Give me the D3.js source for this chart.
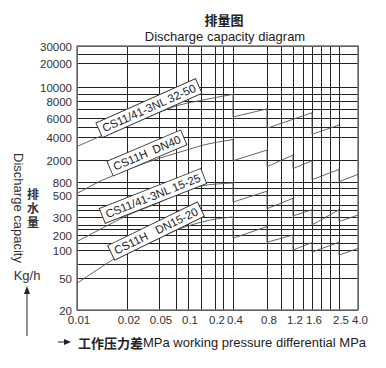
<!DOCTYPE html>
<html><head><meta charset="utf-8">
<script src="https://cdn.jsdelivr.net/npm/d3@7"></script>
<style>body{margin:0;background:#fff}</style>
</head><body>
<svg id="c" width="386" height="368"></svg>
<script>
// ---------- data ----------
const xTickValues = [0.01, 0.02, 0.05, 0.1, 0.2, 0.4, 0.8, 1.2, 1.6, 2.5, 4.0];
const xTickLabels = ["0.01", "0.02", "0.05", "0.1", "0.2", "0.4", "0.8", "1.2", "1.6", "2.5", "4.0"];
const xGridValues = [0.01, 0.02, 0.05, 0.075, 0.1, 0.14, 0.2, 0.27, 0.4, 0.8, 1.0, 1.2, 1.4, 1.6, 1.85, 2.15, 2.5, 4.0];
const yTickValues = [20, 50, 100, 200, 300, 500, 800, 2000, 4000, 6000, 8000, 10000, 20000, 30000];
const yTickLabels = ["20", "50", "100", "200", "300", "500", "800", "2000", "4000", "6000", "8000", "10000", "20000", "30000"];
const yGridValues = [20, 50, 70, 100, 140, 200, 230, 250, 300, 350, 400, 500, 650, 800, 2000, 4000, 5000, 6000, 7000, 8000, 9000, 10000, 20000, 25000, 30000];

const seriesNames = ["CS11/41-3NL 32-50", "CS11H  DN40", "CS11/41-3NL 15-25", "CS11H   DN15-20"];
// smooth part: [pressure MPa, capacity kg/h]
const curve1 = [[0.01, 3000], [0.015, 4300], [0.02, 5200], [0.05, 6600], [0.083, 7500], [0.136, 8050], [0.4, 8900]];
const curve2 = [[0.01, 530], [0.0143, 870], [0.02, 1320], [0.05, 2100], [0.097, 2700], [0.136, 3050], [0.4, 3700]];
const curve3 = [[0.01, 148], [0.0147, 240], [0.02, 310], [0.05, 420], [0.1, 620], [0.136, 690], [0.4, 770]];
const curve4 = [[0.01, 43], [0.0169, 81], [0.02, 97], [0.05, 182], [0.1, 245], [0.176, 280], [0.4, 300]];
// sawtooth part: [p0, c0, p1, c1]
const steps1 = [[0.4, 6100, 0.8, 7000], [0.8, 4820, 1.6, 6560], [1.6, 4240, 2.5, 5160]];
const steps2 = [[0.4, 1940, 0.8, 2700], [0.8, 1510, 1.2, 2325], [1.2, 1400, 1.6, 1940], [1.6, 880, 2.5, 1350], [2.5, 810, 4.0, 1100]];
const steps3 = [[0.4, 424, 0.8, 574], [0.8, 363, 1.2, 463], [1.2, 308, 1.6, 355], [1.6, 251, 2.5, 355], [2.5, 271, 4.0, 314]];
const steps4 = [[0.4, 172, 0.8, 242], [0.8, 143, 1.2, 200], [1.2, 100, 1.6, 141], [1.6, 95, 2.5, 143], [2.5, 88, 4.0, 108]];
// label anchor (pressure, capacity)
const labelAnchors = [[0.0375, 7100], [0.0354, 2470], [0.0421, 489], [0.0459, 219]];

// ---------- layout ----------
const svg = d3.select("#c");
const L = 77, R = 358, T = 46, B = 310;
const latin = "'Liberation Sans', Arial, sans-serif";
const cjk = "'Noto Sans CJK SC', sans-serif";

const x = d3.scaleLog().domain(xTickValues)
  .range([77, 127, 159, 188, 215, 233, 267, 293, 312, 339, 358]);
const y = d3.scaleLog().domain(yTickValues)
  .range([310, 278, 250, 235, 217, 195, 182, 160, 137, 118, 101, 87, 63, 46]);

const px = v => Math.round(x(v)) + 0.5;
const py = v => Math.round(y(v)) + 0.5;

// grid
const g = svg.append("g");
g.selectAll("line.v").data(xGridValues).join("line")
  .attr("x1", px).attr("x2", px).attr("y1", T).attr("y2", B)
  .attr("stroke", "#222").attr("stroke-width", 1);
g.selectAll("line.h").data(yGridValues).join("line")
  .attr("x1", L).attr("x2", R).attr("y1", py).attr("y2", py)
  .attr("stroke", "#222").attr("stroke-width", 1);
svg.append("rect").attr("x", L).attr("y", T).attr("width", R - L).attr("height", B - T)
  .attr("fill", "none").attr("stroke", "#777").attr("stroke-width", 1.5);

// series
const curves = [curve1, curve2, curve3, curve4];
const stepsAll = [steps1, steps2, steps3, steps4];
const smooth = d3.line().x(d => x(d[0])).y(d => y(d[1])).curve(d3.curveMonotoneX);
const straight = d3.line().x(d => x(d[0])).y(d => y(d[1]));
curves.forEach((c, i) => {
  svg.append("path").attr("d", smooth(c)).attr("fill", "none")
    .attr("stroke", "#555").attr("stroke-width", 0.9);
  const pts = [c[c.length - 1]];
  stepsAll[i].forEach(s => { pts.push([s[0], s[1]]); pts.push([s[2], s[3]]); });
  svg.append("path").attr("d", straight(pts)).attr("fill", "none")
    .attr("stroke", "#555").attr("stroke-width", 0.9);
});

// series labels
const angles = [-24, -23, -21.5, -26];
seriesNames.forEach((name, i) => {
  const a = labelAnchors[i];
  const lg = svg.append("g").attr("transform", `translate(${x(a[0])},${y(a[1])}) rotate(${angles[i]})`);
  const rect = lg.append("rect");
  const t = lg.append("text").text(name)
    .attr("text-anchor", "middle").attr("dominant-baseline", "central")
    .attr("font-family", latin).attr("font-size", 11.5).attr("fill", "#222")
    .style("white-space", "pre");
  const w = t.node().getComputedTextLength();
  rect.attr("x", -w / 2 - 4).attr("y", -8).attr("width", w + 8).attr("height", 16)
    .attr("fill", "#fff").attr("stroke", "#333").attr("stroke-width", 0.9);
});

// tick labels
svg.selectAll("text.yt").data(yTickValues).join("text")
  .attr("x", 72).attr("y", d => y(d) + 1)
  .attr("text-anchor", "end").attr("dominant-baseline", "central")
  .attr("font-family", latin).attr("font-size", 11.5).attr("fill", "#333")
  .text((d, i) => yTickLabels[i]);
svg.selectAll("text.xt").data(xTickValues).join("text")
  .attr("x", d => x(d) + 2).attr("y", 320)
  .attr("text-anchor", "middle").attr("dominant-baseline", "central")
  .attr("font-family", latin).attr("font-size", 11.5).attr("fill", "#333")
  .text((d, i) => xTickLabels[i]);

// titles
svg.append("text").attr("x", 224).attr("y", 19).attr("text-anchor", "middle")
  .attr("dominant-baseline", "central").attr("font-family", cjk).attr("font-weight", "bold")
  .attr("font-size", 13).attr("fill", "#222").text("排量图");
svg.append("text").attr("x", 225).attr("y", 36).attr("text-anchor", "middle")
  .attr("dominant-baseline", "central").attr("font-family", latin)
  .attr("font-size", 13).attr("fill", "#222").text("Discharge capacity diagram");

// y axis title
svg.append("text").attr("transform", "translate(18,208) rotate(90)")
  .attr("text-anchor", "middle").attr("dominant-baseline", "central")
  .attr("font-family", latin).attr("font-size", 13).attr("fill", "#333")
  .text("Discharge capacity");
svg.append("text").attr("x", 33).attr("y", 188)
  .style("writing-mode", "vertical-rl").style("letter-spacing", "2px")
  .attr("font-family", cjk).attr("font-weight", "bold")
  .attr("font-size", 12).attr("fill", "#333").text("排水量");
svg.append("text").attr("x", 27).attr("y", 275).attr("text-anchor", "middle")
  .attr("dominant-baseline", "central").attr("font-family", latin)
  .attr("font-size", 13).attr("fill", "#333").text("Kg/h");

// arrows
svg.append("line").attr("x1", 27).attr("x2", 27).attr("y1", 336).attr("y2", 292)
  .attr("stroke", "#222").attr("stroke-width", 1);
svg.append("path").attr("d", "M27,286 L24,294 L30,294 Z").attr("fill", "#222");
svg.append("line").attr("x1", 58).attr("x2", 66).attr("y1", 342).attr("y2", 342)
  .attr("stroke", "#222").attr("stroke-width", 1);
svg.append("path").attr("d", "M71,342 L64,339 L64,345 Z").attr("fill", "#222");

// x axis title
const xt = svg.append("text").attr("x", 78).attr("y", 342).attr("dominant-baseline", "central")
  .attr("font-size", 13).attr("fill", "#222");
xt.append("tspan").attr("font-family", cjk).attr("font-weight", "bold").text("工作压力差");
xt.append("tspan").attr("font-family", latin).text("MPa working pressure differential MPa");
</script>
</body></html>
